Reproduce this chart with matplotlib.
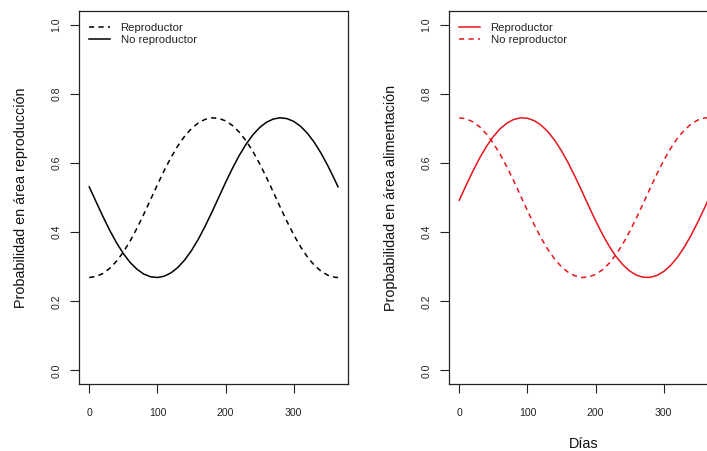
import matplotlib
matplotlib.use("Agg")
import matplotlib.pyplot as plt

plt.rcParams['font.family'] = ['Liberation Sans', 'DejaVu Sans']

dias = [0, 10, 20, 30, 40, 50, 60, 70, 80, 90, 100, 110, 120, 130, 140, 150, 160, 170,
        180, 190, 200, 210, 220, 230, 240, 250, 260, 270, 280, 290, 300, 310, 320, 330,
        340, 350, 360, 365]

# Left panel: probability in reproduction area
rep_reprod = [0.2689, 0.2719, 0.2806, 0.2953, 0.3160, 0.3426, 0.3747, 0.4115, 0.4520, 0.4946,
              0.5375, 0.5786, 0.6166, 0.6499, 0.6779, 0.7000, 0.7162, 0.7265, 0.7309, 0.7294,
              0.7221, 0.7089, 0.6897, 0.6646, 0.6339, 0.5981, 0.5584, 0.5161, 0.4732, 0.4314,
              0.3925, 0.3579, 0.3286, 0.3049, 0.2873, 0.2755, 0.2697, 0.2689]
rep_noreprod = [0.5311, 0.4882, 0.4458, 0.4057, 0.3695, 0.3382, 0.3125, 0.2929, 0.2789, 0.2710,
                0.2690, 0.2728, 0.2825, 0.2981, 0.3197, 0.3470, 0.3799, 0.4174, 0.4583, 0.5011,
                0.5438, 0.5846, 0.6219, 0.6545, 0.6816, 0.7029, 0.7182, 0.7275, 0.7310, 0.7287,
                0.7205, 0.7064, 0.6863, 0.6604, 0.6288, 0.5924, 0.5521, 0.5311]

# Right panel: probability in feeding area
ali_reprod = [0.4925, 0.5354, 0.5767, 0.6149, 0.6485, 0.6768, 0.6993, 0.7157, 0.7263, 0.7309,
              0.7297, 0.7227, 0.7098, 0.6909, 0.6660, 0.6355, 0.6000, 0.5604, 0.5182, 0.4753,
              0.4334, 0.3943, 0.3595, 0.3298, 0.3059, 0.2878, 0.2758, 0.2697, 0.2694, 0.2749,
              0.2864, 0.3039, 0.3272, 0.3562, 0.3907, 0.4294, 0.4710, 0.4925]
ali_noreprod = [0.7311, 0.7281, 0.7194, 0.7047, 0.6840, 0.6574, 0.6253, 0.5885, 0.5480, 0.5054,
                0.4625, 0.4214, 0.3834, 0.3501, 0.3221, 0.3000, 0.2838, 0.2735, 0.2691, 0.2706,
                0.2779, 0.2911, 0.3103, 0.3354, 0.3661, 0.4019, 0.4416, 0.4839, 0.5268, 0.5686,
                0.6075, 0.6421, 0.6714, 0.6951, 0.7127, 0.7245, 0.7303, 0.7311]

x_ticks = [0, 100, 200, 300]
y_ticks = [0.0, 0.2, 0.4, 0.6, 0.8, 1.0]
y_ticklabels = ["0.0", "0.2", "0.4", "0.6", "0.8", "1.0"]

W, H = 707, 451
fig = plt.figure(figsize=(W / 100, H / 100), dpi=100)

def px_axes(left, top, right, bottom):
    return [left / W, 1 - bottom / H, (right - left) / W, (bottom - top) / H]

axL = fig.add_axes(px_axes(79.3, 11.0, 348.0, 384.3))
axR = fig.add_axes(px_axes(449.3, 11.0, 718.0, 384.3))

RED = '#E8141B'
DASH = (0, (3.4, 2.8))

def style(ax, ylabel):
    ax.set_xlim(-14.6, 379.6)
    ax.set_ylim(-0.04, 1.04)
    ax.set_xticks(x_ticks)
    ax.set_xticklabels([str(v) for v in x_ticks])
    ax.set_yticks(y_ticks)
    ax.set_yticklabels(y_ticklabels)
    for s in ax.spines.values():
        s.set_linewidth(0.9)
        s.set_color('#222222')
    ax.tick_params(axis='both', direction='out', length=6.4, width=0.8,
                   color='#222222', labelsize=7.6, labelcolor='#222222')
    ax.tick_params(axis='x', pad=10.6)
    ax.tick_params(axis='y', pad=6.4)
    for lab in ax.get_yticklabels():
        lab.set_rotation(90)
        lab.set_va('center')
        lab.set_ha('right')
    ax.set_ylabel(ylabel, fontsize=10.4, va='center', color='#111111')
    ax.yaxis.set_label_coords((21.5 - 79.3) / 268.7, 0.5)

def add_legend(ax):
    ax.legend(loc='upper left', bbox_to_anchor=(0.0372, 0.9686), frameon=False,
              fontsize=8.2, borderpad=0, borderaxespad=0, handlelength=1.84,
              handletextpad=0.9, labelspacing=0.17, labelcolor='#222222')

axL.plot(dias, rep_reprod, color='black', lw=1.1, linestyle=DASH, label='Reproductor')
axL.plot(dias, rep_noreprod, color='black', lw=1.1, label='No reproductor')
style(axL, 'Probabilidad en área reproducción')
add_legend(axL)

axR.plot(dias, ali_reprod, color=RED, lw=1.1, label='Reproductor')
axR.plot(dias, ali_noreprod, color=RED, lw=1.1, linestyle=DASH, label='No reproductor')
style(axR, 'Propbabilidad en área alimentación')
add_legend(axR)
axR.set_xlabel('Días', fontsize=10.4, va='baseline', color='#111111')
axR.xaxis.set_label_coords(0.5, (384.3 - 447.5) / 373.3)

fig.savefig('out.png', dpi=100)
